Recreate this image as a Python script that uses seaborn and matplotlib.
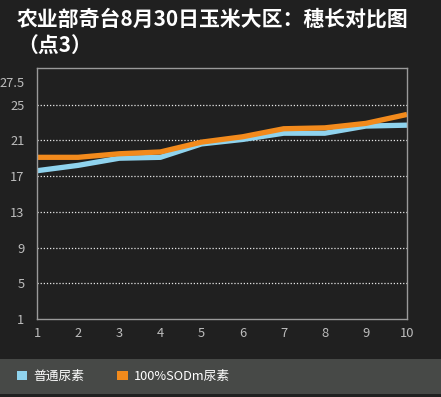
import matplotlib
matplotlib.use('Agg')
import matplotlib.pyplot as plt
from matplotlib.patches import Rectangle, Patch
import seaborn as sns
import pandas as pd

points = [1, 2, 3, 4, 5, 6, 7, 8, 9, 10]
normal_urea = [17.6, 18.2, 19.0, 19.1, 20.6, 21.1, 21.8, 21.8, 22.6, 22.7]
sodm_urea = [19.1, 19.1, 19.5, 19.7, 20.8, 21.4, 22.3, 22.4, 22.9, 23.9]
series_names = ['普通尿素', '100%SODm尿素']
y_ticks = [1, 5, 9, 13, 17, 21, 25, 27.5]
title = '农业部奇台8月30日玉米大区：穗长对比图\n（点3）'

colors = ['#8fd3ee', '#f28a1c']
bg = '#202020'


def main():
    sns.set_style('dark')
    plt.rcParams['font.family'] = ['Noto Sans CJK SC', 'DejaVu Sans']

    df = pd.DataFrame({
        'x': points * 2,
        'y': normal_urea + sodm_urea,
        'series': [series_names[0]] * len(points) + [series_names[1]] * len(points),
    })

    fig = plt.figure(figsize=(4.41, 3.97), dpi=100, facecolor=bg)
    ax = fig.add_axes([37 / 441, 78 / 397, 370 / 441, 251 / 397])
    ax.set_facecolor(bg)

    sns.lineplot(data=df, x='x', y='y', hue='series', palette=colors,
                 linewidth=3.8, ax=ax, legend=False, solid_capstyle='butt')

    ax.set_xlim(1, 10)
    ax.set_ylim(1, 29.1)
    ax.set_xticks(points)
    ax.set_yticks(y_ticks)
    ax.set_yticklabels(['27.5' if t == 27.5 else str(t) for t in y_ticks])
    ax.tick_params(axis='both', length=0, colors='#bdbdbd', labelsize=9.3)
    ax.tick_params(axis='y', pad=9)
    ax.tick_params(axis='x', pad=6)
    ax.set_xlabel('')
    ax.set_ylabel('')

    ax.grid(False)
    for t in [5, 9, 13, 17, 21, 25]:
        ax.axhline(t, color='#e8e8e8', linestyle=(0, (1, 1.5)), linewidth=0.9, zorder=0)

    for s in ax.spines.values():
        s.set_visible(True)
        s.set_color('#9a9a9a')
        s.set_linewidth(1.0)

    fig.text(17 / 441, 1 - 8 / 397, title, color='white', fontsize=15,
             fontweight='bold', va='top', ha='left', linespacing=1.35)

    # legend band at the bottom
    fig.patches.append(Rectangle((0, 3 / 397), 1, 35 / 397, transform=fig.transFigure,
                                 facecolor='#474947', edgecolor='none', zorder=0))
    handles = [Patch(facecolor=c, edgecolor='none') for c in colors]
    fig.legend(handles, series_names, loc='center left', bbox_to_anchor=(5 / 441, 20.5 / 397),
               ncol=2, frameon=False, fontsize=9.2, labelcolor='white',
               handlelength=0.8, handleheight=0.8, handletextpad=0.5, columnspacing=2.6)

    fig.savefig('out.png', dpi=100, facecolor=bg)
    plt.close(fig)


if __name__ == '__main__':
    main()
